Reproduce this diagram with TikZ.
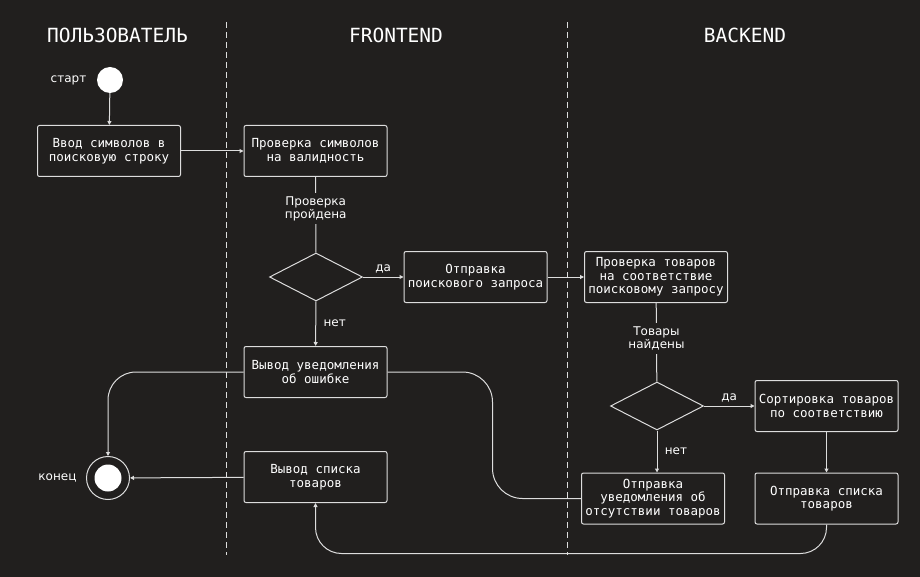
\documentclass[tikz,border=0pt]{standalone}
\usepackage{fontspec}
\setmonofont{DejaVu Sans Mono}
\setsansfont{DejaVu Sans}
\usetikzlibrary{arrows.meta,shapes.geometric}
\definecolor{bg}{HTML}{211F1E}
\definecolor{ln}{HTML}{DDDDDD}
\tikzset{
  act/.style={draw=ln, line width=1pt, rounded corners=2pt, minimum width=143pt,
    minimum height=51pt, inner sep=2pt, align=center, text=white,
    font=\ttfamily\fontsize{12.5}{13.5}\selectfont},
  cond/.style={draw=ln, line width=1pt, diamond, minimum width=93pt,
    minimum height=48pt, inner sep=0pt},
  lbl/.style={text=white, align=center, font=\sffamily\fontsize{12}{13.5}\selectfont},
  head/.style={text=white, font=\ttfamily\fontsize{19.5}{20}\selectfont},
  flow/.style={draw=ln, line width=1pt, -{Triangle[length=4pt,width=4pt]}},
  link/.style={draw=ln, line width=1pt},
  lane/.style={draw=ln, line width=1pt, dash pattern=on 6pt off 4pt},
}

\begin{document}
\begin{tikzpicture}[x=1pt, y=-1pt]
    \fill[bg] (0,0) rectangle (920,577);
    \useasboundingbox (0,0) rectangle (920,577);

    % lanes
    \draw[lane] (226,22) -- (226,555);
    \draw[lane] (567,22) -- (567,555);
    \node[head] at (117.5,35) (h-user)  {ПОЛЬЗОВАТЕЛЬ};
    \node[head] at (396,35)   (h-front) {FRONTEND};
    \node[head] at (745,35)   (h-back)  {BACKEND};

    % place nodes
    \node[circle, fill=white, minimum size=26pt, inner sep=0pt] at (110,80) (start) {};
    \node[lbl, left=7pt] at (start.west) {старт};
    \node[circle, draw=ln, line width=1pt, minimum size=43pt, inner sep=0pt] at (108,478) (stop) {};
    \node[circle, fill=white, minimum size=27pt, inner sep=0pt] at (stop) {};
    \node[lbl, left=6pt] at (stop.west) {конец};

    \node[act] at (109,151)   (b-input) {Ввод символов в\\поисковую строку};
    \node[act] at (315.5,151) (b-check) {Проверка символов\\на валидность};
    \node[cond] at (316,277)  (d-valid) {};
    \node[act] at (475.5,277) (b-send)  {Отправка\\поискового запроса};
    \node[act] at (656,277)   (b-match) {Проверка товаров\\на соответствие\\поисковому запросу};
    \node[act] at (315.5,372) (b-error) {Вывод уведомления\\об ошибке};
    \node[act] at (315.5,477) (b-list)  {Вывод списка\\товаров};
    \node[cond] at (657,406)  (d-found) {};
    \node[act] at (826.5,406) (b-sort)  {Сортировка товаров\\по соответствию};
    \node[act] at (653,498.5) (b-none)  {Отправка\\уведомления об\\отсутствии товаров};
    \node[act] at (826.5,498.5) (b-out) {Отправка списка\\товаров};

    % draw edges
    \draw[flow] (start) -- (b-input);
    \draw[flow] (b-input) -- (b-check);
    \draw[link] (b-check) -- node[lbl, fill=bg, pos=0.42] {Проверка\\пройдена} (d-valid);
    \draw[flow] (d-valid) -- node[lbl, above] {да} (b-send);
    \draw[flow] (d-valid) -- node[lbl, right=4pt] {нет} (b-error);
    \draw[flow] (b-send) -- (b-match);
    \draw[link] (b-match) -- node[lbl, fill=bg, pos=0.45] {Товары\\найдены} (d-found);
    \draw[flow] (d-found) -- node[lbl, above] {да} (b-sort);
    \draw[flow] (d-found.south) -- node[lbl, right=4pt] {нет} (d-found.south |- b-none.north);
    \draw[flow] (b-sort) -- (b-out);
    \draw[flow, rounded corners=28pt] (b-error.west) -| (stop.north);
    \draw[flow] (b-list) -- (stop);
    \draw[link, rounded corners=30pt] (b-error.east) -- ++(105,0) |- (b-none.west);
    \draw[flow, rounded corners=26pt] (b-out.south) -- ++(0,29) -| (b-list.south);
\end{tikzpicture}
\end{document}
